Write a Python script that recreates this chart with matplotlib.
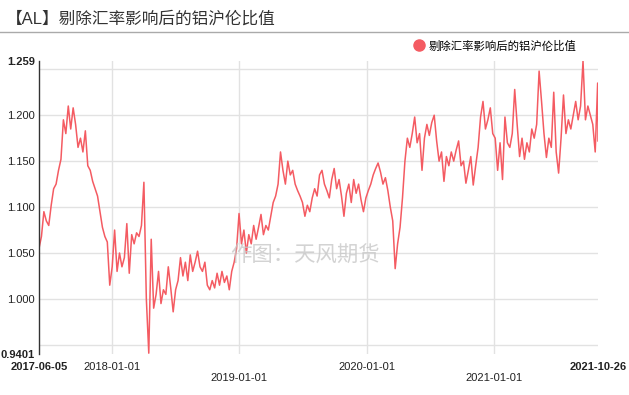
import pandas as pd
import matplotlib
matplotlib.use('Agg')
import matplotlib.pyplot as plt
from matplotlib.lines import Line2D

plt.rcParams['font.family'] = ['Liberation Sans', 'Noto Sans CJK SC', 'DejaVu Sans']

# 周度取值
fechas = list(pd.date_range('2017-06-05', periods=230, freq='7D')) + [pd.Timestamp('2021-10-26')]
ratio = [
    # 2017
    1.055, 1.068, 1.095, 1.085, 1.080, 1.102, 1.120, 1.125, 1.140, 1.152,
    1.195, 1.180, 1.210, 1.185, 1.208, 1.190, 1.165, 1.175, 1.160, 1.183,
    1.145, 1.140, 1.128, 1.120, 1.112, 1.095, 1.078, 1.068, 1.062, 1.015,
    # 2018
    1.035, 1.075, 1.030, 1.050, 1.035, 1.045, 1.082, 1.028, 1.070, 1.060,
    1.072, 1.068, 1.080, 1.127, 1.000, 0.941, 1.065, 0.990, 1.005, 1.030,
    0.995, 1.010, 1.005, 1.035, 1.012, 0.986, 1.010, 1.020, 1.045, 1.025,
    1.040, 1.020, 1.048, 1.030, 1.040, 1.052, 1.035, 1.030, 1.040, 1.015,
    1.010, 1.020, 1.012, 1.028, 1.015, 1.030, 1.018, 1.025, 1.010, 1.030,
    1.040, 1.055,
    # 2019
    1.093, 1.060, 1.075, 1.050, 1.070, 1.060, 1.080, 1.065, 1.078, 1.092,
    1.070, 1.080, 1.075, 1.090, 1.105, 1.112, 1.125, 1.160, 1.140, 1.125,
    1.150, 1.135, 1.140, 1.125, 1.118, 1.112, 1.105, 1.090, 1.102, 1.095,
    1.110, 1.120, 1.112, 1.135, 1.140, 1.125, 1.118, 1.110, 1.130, 1.142,
    1.120, 1.130, 1.112, 1.090, 1.115, 1.125, 1.105, 1.130, 1.115, 1.125,
    1.108, 1.095,
    # 2020
    1.110, 1.118, 1.125, 1.135, 1.142, 1.148, 1.138, 1.125, 1.132, 1.118,
    1.100, 1.085, 1.033, 1.060, 1.078, 1.110, 1.150, 1.175, 1.165, 1.180,
    1.198, 1.170, 1.180, 1.140, 1.175, 1.190, 1.178, 1.192, 1.200, 1.172,
    1.150, 1.160, 1.128, 1.155, 1.145, 1.160, 1.150, 1.162, 1.172, 1.145,
    1.150, 1.126, 1.140, 1.155, 1.124, 1.145, 1.165, 1.198, 1.215, 1.185,
    1.195, 1.208, 1.180,
    # 2021
    1.175, 1.140, 1.170, 1.130, 1.198, 1.170, 1.165, 1.180, 1.228, 1.190,
    1.155, 1.175, 1.152, 1.170, 1.160, 1.185, 1.175, 1.190, 1.248, 1.215,
    1.180, 1.154, 1.175, 1.165, 1.225, 1.160, 1.137, 1.175, 1.222, 1.180,
    1.195, 1.185, 1.200, 1.215, 1.195, 1.210, 1.259, 1.195, 1.210, 1.200,
    1.190, 1.160, 1.235, 1.172,
]

y_min, y_max = 0.9401, 1.259
y_grid = [0.95, 1.00, 1.05, 1.10, 1.15, 1.20, 1.25]
y_ticks = [0.9401, 1.000, 1.050, 1.100, 1.150, 1.200, 1.259]
y_labels = ['0.9401', '1.000', '1.050', '1.100', '1.150', '1.200', '1.259']
x_ticks = ['2017-06-05', '2018-01-01', '2019-01-01', '2020-01-01', '2021-01-01', '2021-10-26']
x_grid = ['2018-01-01', '2019-01-01', '2020-01-01', '2021-01-01']

titulo = '【AL】剔除汇率影响后的铝沪伦比值'
serie = '剔除汇率影响后的铝沪伦比值'
rojo = '#f45b62'

W, H = 629, 395
fig = plt.figure(figsize=(W / 100, H / 100), dpi=100)
ax = fig.add_axes([39 / W, 1 - 354 / H, (598 - 39) / W, (354 - 61) / H])

for g in y_grid:
    ax.axhline(g, color='#e2e2e2', lw=1, zorder=0)
for g in x_grid:
    ax.axvline(pd.Timestamp(g), color='#e2e2e2', lw=1, zorder=0)

ax.plot(fechas, ratio, color=rojo, lw=1.1, label=serie, zorder=2)

ax.set_ylim(y_min, y_max)
ax.set_xlim(pd.Timestamp(x_ticks[0]), pd.Timestamp(x_ticks[-1]))
ax.set_yticks(y_ticks)
ax.set_yticklabels(y_labels)
ax.set_xticks([pd.Timestamp(t) for t in x_ticks])
# 年份标签上下错开
etiquetas = [x_ticks[0], x_ticks[1], '\n' + x_ticks[2], x_ticks[3], '\n' + x_ticks[4], x_ticks[5]]
ax.set_xticklabels(etiquetas, linespacing=1.05)
ax.tick_params(axis='both', length=0, labelsize=8, colors='#222222')
ax.tick_params(axis='x', pad=6)
ax.tick_params(axis='y', pad=3)
for lab in ax.get_yticklabels():
    if lab.get_text() in ('0.9401', '1.259'):
        lab.set_fontweight('bold')
for lab in ax.get_xticklabels():
    if lab.get_text() in ('2017-06-05', '2021-10-26'):
        lab.set_fontweight('bold')

for s in ['top', 'right', 'bottom']:
    ax.spines[s].set_visible(False)
ax.spines['left'].set_color('#333333')
ax.spines['left'].set_linewidth(1)

# 标题和分隔线
fig.text(6 / W, 1 - 19 / H, titulo, fontsize=12, color='#333333', va='center', ha='left')
fig.add_artist(Line2D([0, 1], [1 - 32 / H, 1 - 32 / H], color='#aaaaaa', lw=1))

# 图例
h = Line2D([], [], marker='o', ls='', color=rojo, markersize=8)
ax.legend(handles=[h], labels=[serie], loc='center left', frameon=False,
          bbox_to_anchor=(413.5 / W, 1 - 45.7 / H), bbox_transform=fig.transFigure,
          borderpad=0, borderaxespad=0, handlelength=1, handletextpad=0.3,
          prop={'size': 8.2})

# 水印
fig.text(305 / W, 1 - 255 / H, '作图：天风期货', fontsize=15.4, color='#c8c8c8',
         alpha=0.8, ha='center', va='center', zorder=5)

fig.savefig('out.png', dpi=100)
